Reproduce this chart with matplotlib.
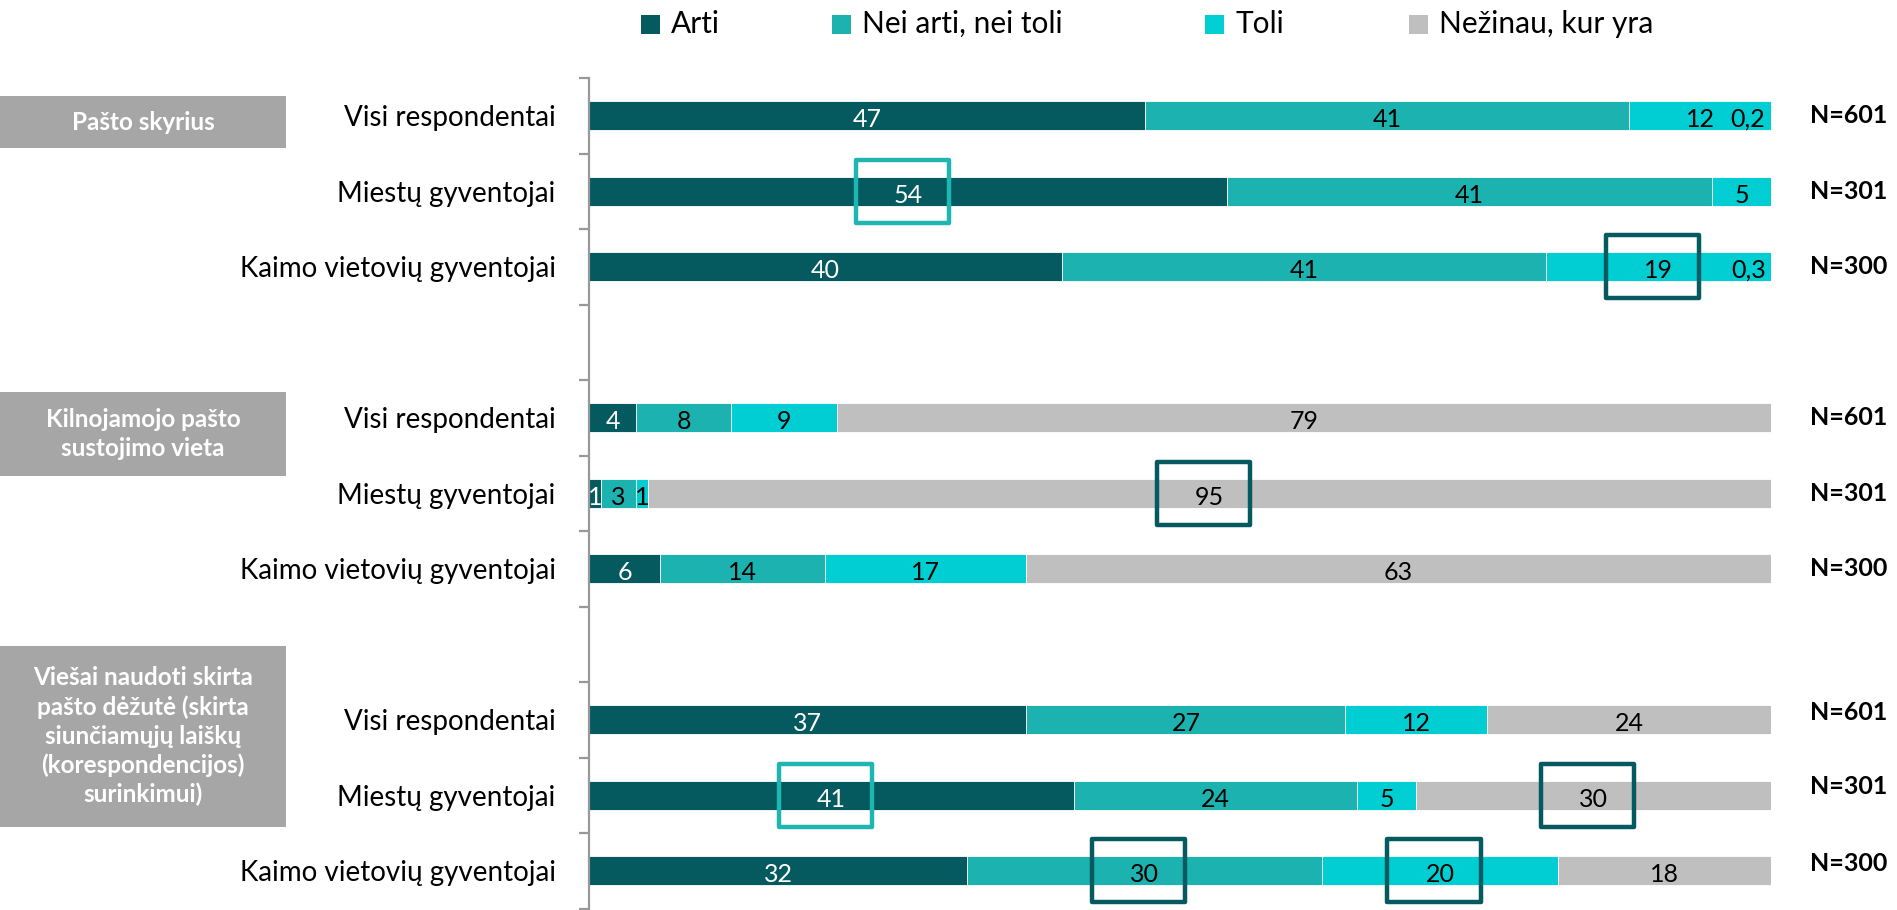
import matplotlib
matplotlib.use("Agg")
import matplotlib.pyplot as plt
from matplotlib.patches import Rectangle
import numpy as np

plt.rcParams['font.family'] = ['Lato', 'DejaVu Sans']

# ---------------- data ----------------
series_names = ["Arti", "Nei arti, nei toli", "Toli", "Nežinau, kur yra"]
series_colors = ["#045A5E", "#1CB2AF", "#00CED2", "#BFBFBF"]

row_labels = ["Visi respondentai", "Miestų gyventojai", "Kaimo vietovių gyventojai"] * 3
row_slots = [0, 1, 2, 4, 5, 6, 8, 9, 10]
n_labels = ["N=601", "N=301", "N=300"] * 3

arti = [47, 54, 40, 4, 1, 6, 37, 41, 32]
nei = [41, 41, 41, 8, 3, 14, 27, 24, 30]
toli = [12, 5, 19, 9, 1, 17, 12, 5, 20]
nezinau = [0.2, 0, 0.3, 79, 95, 63, 24, 30, 18]

group_titles = ["Pašto skyrius",
                "Kilnojamojo pašto\nsustojimo vieta",
                "Viešai naudoti skirta\npašto dėžutė (skirta\nsiunčiamųjų laiškų\n(korespondencijos)\nsurinkimui)"]

# highlighted labels: (row index, series index, frame colour)
highlights = [(1, 0, "#1FB5B1"), (2, 2, "#045A5E"), (4, 3, "#045A5E"),
              (7, 0, "#1FB5B1"), (7, 3, "#045A5E"), (8, 1, "#045A5E"), (8, 2, "#045A5E")]

# ---------------- figure ----------------
W, H = 1897, 910
fig = plt.figure(figsize=(W / 100, H / 100), dpi=100)
ax = fig.add_axes([589 / W, 1 - 908.5 / H, (1771 - 589) / W, (908.5 - 78) / H])

values = np.array([arti, nei, toli, nezinau], dtype=float)
y = np.array(row_slots) + 0.5
left = np.zeros(len(y))
bar_h = 0.39
for si in range(4):
    ax.barh(y, values[si], left=left, height=bar_h, color=series_colors[si],
            edgecolor="white", linewidth=0.6)
    for ri in range(len(y)):
        v = values[si][ri]
        if v <= 0:
            continue
        txt = ("%g" % v).replace(".", ",")
        col = "white" if si == 0 else "black"
        if v < 1:
            ax.text(left[ri] + v - 0.7, y[ri] + 0.05, txt, ha="right", va="center",
                    fontsize=18, color=col)
        else:
            ax.text(left[ri] + v / 2, y[ri] + 0.05, txt, ha="center", va="center",
                    fontsize=18, color=col)
    left = left + values[si]

# highlight frames
bw, bh = 7.9, 0.835
for ri, si, col in highlights:
    start = values[:si, ri].sum()
    cx = start + values[si, ri] / 2 - 0.5
    ax.add_patch(Rectangle((cx - bw / 2, y[ri] - bh / 2), bw, bh, fill=False,
                           edgecolor=col, linewidth=3.2, joinstyle="round",
                           clip_on=False, zorder=5))

# N labels
n_offsets = [0, 0, 0, 0, 0, 0, -0.1, -0.12, -0.1]
for ri in range(len(y)):
    ax.text(103.3, y[ri] + n_offsets[ri], n_labels[ri], ha="left", va="center",
            fontsize=18, fontweight="bold", color="black", clip_on=False)

ax.set_xlim(0, 100)
ax.set_ylim(11, 0)
for s in ["top", "right", "bottom"]:
    ax.spines[s].set_visible(False)
ax.spines["left"].set_color("#999999")
ax.spines["left"].set_linewidth(1.6)
ax.set_xticks([])
ax.set_yticks(np.arange(0, 12))
ax.set_yticklabels([])
ax.tick_params(axis="y", which="major", length=7, width=1.6, color="#999999")
ax.set_yticks(y, row_labels, minor=True)
ax.tick_params(axis="y", which="minor", length=0, pad=24, labelsize=20)

# group boxes
boxes = [(96, 148), (392, 476), (646, 827)]
for (t, b), title in zip(boxes, group_titles):
    fig.patches.append(Rectangle((0, 1 - b / H), 286 / W, (b - t) / H,
                                 transform=fig.transFigure, facecolor="#A6A6A6",
                                 edgecolor="none"))
    fig.text(143 / W, 1 - (t + b) / 2 / H, title, ha="center", va="center",
             fontsize=17.5, fontweight="bold", color="white", linespacing=1.3)

# legend
leg_x = [641, 832, 1205, 1409]
for lx, name, col in zip(leg_x, series_names, series_colors):
    fig.patches.append(Rectangle((lx / W, 1 - 34 / H), 19 / W, 19 / H,
                                 transform=fig.transFigure, facecolor=col,
                                 edgecolor="none"))
    fig.text((lx + 30) / W, 1 - 24 / H, name, ha="left", va="center",
             fontsize=21.5, color="black")

fig.savefig("out.png", dpi=100)
